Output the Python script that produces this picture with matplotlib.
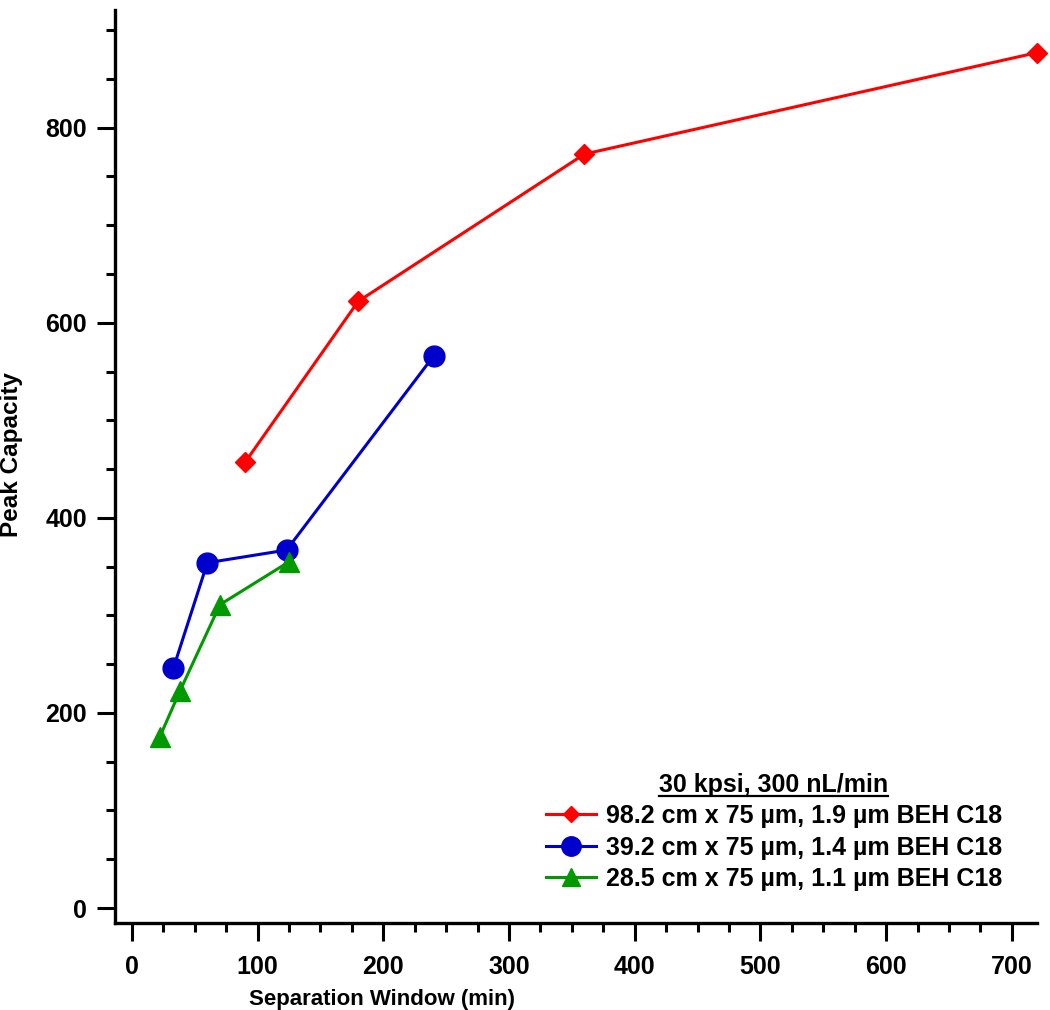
import matplotlib
matplotlib.use("Agg")
import matplotlib.pyplot as plt
from matplotlib.lines import Line2D
from matplotlib.ticker import MultipleLocator

# Data
red_x = [90, 180, 360, 720]
red_y = [457, 622, 773, 877]
blue_x = [33, 60, 123, 240]
blue_y = [246, 354, 367, 566]
green_x = [22, 38, 70, 125]
green_y = [175, 222, 311, 355]

labels = ["98.2 cm x 75 \u00b5m, 1.9 \u00b5m BEH C18",
          "39.2 cm x 75 \u00b5m, 1.4 \u00b5m BEH C18",
          "28.5 cm x 75 \u00b5m, 1.1 \u00b5m BEH C18"]
legend_title = "30 kpsi, 300 nL/min"
xlabel = "Separation Window (min)"
ylabel = "Peak Capacity"

plt.rcParams['font.family'] = ['Liberation Sans', 'DejaVu Sans']

fig = plt.figure(figsize=(10.5, 10.1), dpi=100)
ax = fig.add_axes([0.1095, 0.0861, 0.9876 - 0.1095, 0.990 - 0.0861])

lw = 2.2
ax.plot(red_x, red_y, color='#FF0000', lw=lw, marker='D', ms=10.5, clip_on=False)
ax.plot(blue_x, blue_y, color='#0000CC', lw=lw, marker='o', ms=15, clip_on=False)
ax.plot(green_x, green_y, color='#009900', lw=lw, marker='^', ms=15, clip_on=False)

ax.set_xlim(-13.5, 720)
ax.set_ylim(-15.4, 920.6)

for s in ['top', 'right']:
    ax.spines[s].set_visible(False)
for s in ['left', 'bottom']:
    ax.spines[s].set_linewidth(2.4)

ax.xaxis.set_major_locator(MultipleLocator(100))
ax.xaxis.set_minor_locator(MultipleLocator(25))
ax.yaxis.set_major_locator(MultipleLocator(200))
ax.yaxis.set_minor_locator(MultipleLocator(50))
ax.tick_params(which='major', direction='out', length=13, width=2.2)
ax.tick_params(which='minor', direction='out', length=6.5, width=2.2)
ax.tick_params(axis='y', which='major', pad=7)
ax.tick_params(axis='x', which='major', pad=10)
for t in ax.get_xticklabels() + ax.get_yticklabels():
    t.set_fontsize(18)
    t.set_fontweight('bold')

ax.set_xlabel(xlabel, fontsize=16, fontweight='bold')
ax.set_ylabel(ylabel, fontsize=17.5, fontweight='bold')
ax.xaxis.set_label_coords(0.29, -0.072)
ax.yaxis.set_label_coords(-0.100, 0.513)

h1 = Line2D([], [], color='#FF0000', lw=lw, marker='D', ms=8)
h2 = Line2D([], [], color='#0000CC', lw=lw, marker='o', ms=14)
h3 = Line2D([], [], color='#009900', lw=lw, marker='^', ms=13)
leg = ax.legend([h1, h2, h3], labels, title=legend_title, loc='lower right',
                bbox_to_anchor=(0.962, 0.035), frameon=False, handlelength=2.0,
                handletextpad=0.4, labelspacing=0.3, borderpad=0.0,
                borderaxespad=0.0,
                prop={'weight': 'bold', 'size': 18},
                title_fontproperties={'weight': 'bold', 'size': 18})

fig.canvas.draw()
r = fig.canvas.get_renderer()
bb = leg.get_title().get_window_extent(r)
W, H = fig.get_size_inches() * fig.dpi
yline = bb.y0 + 1
fig.add_artist(Line2D([bb.x0 / W, bb.x1 / W], [yline / H, yline / H],
                      transform=fig.transFigure, color='black', lw=1.6))

fig.savefig("out.png", dpi=100)
